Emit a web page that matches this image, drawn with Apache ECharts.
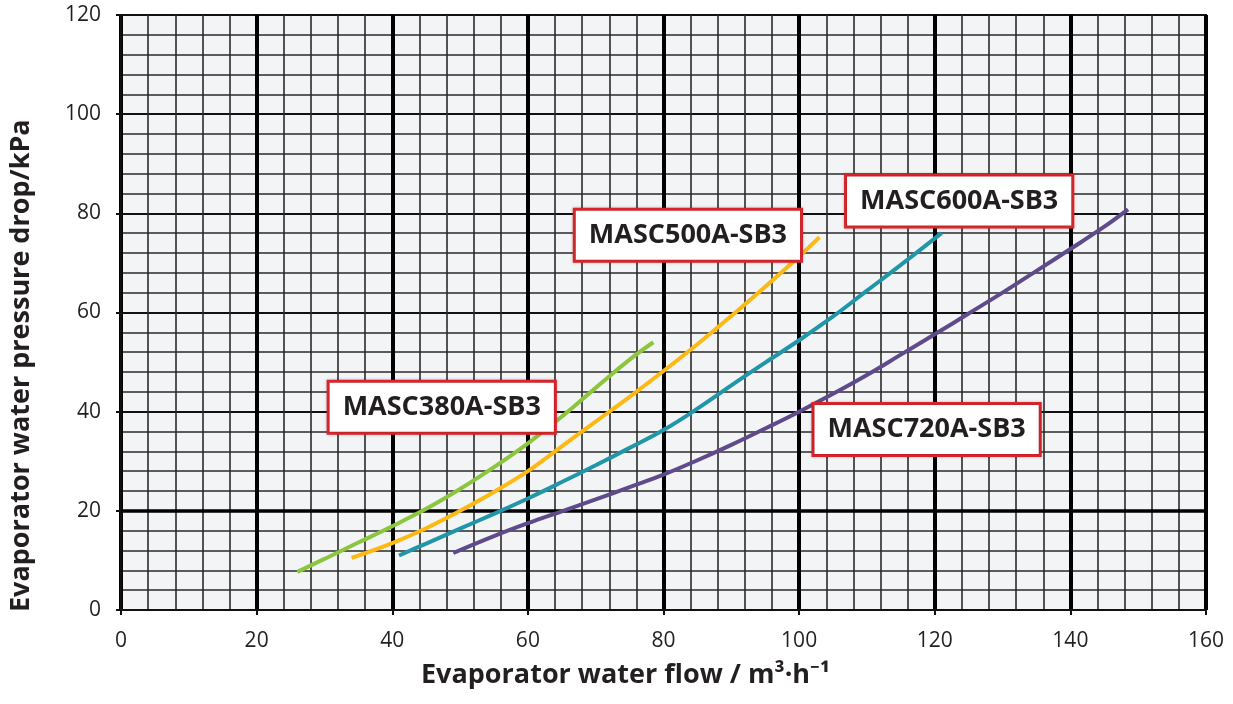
<!DOCTYPE html>
<html>
<head>
<meta charset="utf-8">
<script src="https://cdn.jsdelivr.net/npm/echarts@6/dist/echarts.min.js"></script>
<style>html,body{margin:0;padding:0;background:#fff;}#c{width:1233px;height:704px;}</style>
</head>
<body>
<div id="c"></div>
<script>
const xTicks = [0, 20, 40, 60, 80, 100, 120, 140, 160];
const yTicks = [0, 20, 40, 60, 80, 100, 120];
const seriesNames = ['MASC380A-SB3', 'MASC500A-SB3', 'MASC600A-SB3', 'MASC720A-SB3'];
const masc380 = [[26,7.7],[30,10.3],[35,13.6],[40,16.9],[45,20.4],[50,24.4],[55,28.8],[60,33.6],[65,39],[70,44.8],[75,50.5],[78.5,54]];
const masc500 = [[34,10.5],[40,13.5],[45,16.5],[50,20],[55,23.8],[60,28],[65,33],[70,38],[75,43],[80,48.2],[85,53.6],[90,59.3],[95,65.2],[100,71.3],[103,75.2]];
const masc600 = [[41,11],[45,13.4],[50,16.4],[55,19.4],[60,22.5],[65,25.8],[70,29.2],[75,32.7],[80,36.3],[85,40.6],[90,45.3],[95,49.9],[100,54.4],[105,59.2],[110,64.4],[115,69.6],[121,76]];
const masc720 = [[49,11.5],[55,14.9],[60,17.5],[65,19.9],[70,22.3],[75,24.8],[80,27.3],[85,30.2],[90,33.3],[95,36.6],[100,40],[105,43.6],[110,47.4],[115,51.5],[120,55.6],[125,59.8],[130,64],[135,68.4],[140,72.8],[145,77.3],[148.5,80.8]];
const labelAnchors = [[47.3,40.9],[83.6,75.6],[123.6,82.5],[118.8,36.4]];
const colors = ['#8cc63f', '#fdb913', '#2196a8', '#5f4b8b'];

const chart = echarts.init(document.getElementById('c'));
const seriesData = [masc380, masc500, masc600, masc720];
const font = '"Open Sans", "Noto Sans", sans-serif';

const series = seriesData.map((d, i) => ({
  name: seriesNames[i],
  type: 'line',
  data: d,
  smooth: 0.4,
  showSymbol: false,
  symbol: 'none',
  lineStyle: { color: colors[i], width: 4 },
  z: 5,
  markPoint: {
    symbol: 'rect',
    symbolSize: 1,
    itemStyle: { color: 'rgba(0,0,0,0)' },
    silent: true,
    z: 10,
    data: [{ coord: labelAnchors[i], value: seriesNames[i] }],
    label: {
      show: true,
      position: 'inside',
      formatter: seriesNames[i],
      fontFamily: font,
      fontWeight: 'bold',
      fontSize: 27,
      color: '#231f20',
      backgroundColor: '#ffffff',
      borderColor: '#d9252b',
      borderWidth: 3,
      padding: [12, 13, 10, 13],
      shadowColor: 'rgba(0,0,0,0.25)',
      shadowBlur: 3
    }
  }
}));

series.push({
  type: 'line',
  data: [],
  markLine: {
    silent: true,
    symbol: 'none',
    label: { show: false },
    lineStyle: { color: '#000', width: 3.5, type: 'solid' },
    data: [{ yAxis: 20 }]
  },
  z: 3
});

chart.setOption({
  animation: false,
  backgroundColor: '#fff',
  grid: {
    left: 121, right: 27, top: 15, bottom: 94,
    show: true, backgroundColor: '#f3f4f6', borderColor: '#111', borderWidth: 2
  },
  xAxis: {
    type: 'value', min: 0, max: 160, interval: 20,
    axisLine: { show: true, lineStyle: { color: '#111', width: 2 } },
    axisTick: { show: true, length: 5, lineStyle: { color: '#111', width: 2 } },
    axisLabel: { fontFamily: font, fontSize: 21, color: '#231f20', margin: 21,
      formatter: v => xTicks.includes(v) ? String(v) : '' },
    splitLine: { show: true, lineStyle: { color: '#000', width: 4 } },
    minorTick: { show: false, splitNumber: 5 },
    minorSplitLine: { show: true, lineStyle: { color: '#2a2a2a', width: 1.6 } }
  },
  yAxis: {
    type: 'value', min: 0, max: 120, interval: 20,
    axisLine: { show: true, lineStyle: { color: '#111', width: 2 } },
    axisTick: { show: true, length: 5, lineStyle: { color: '#111', width: 2 } },
    axisLabel: { fontFamily: font, fontSize: 21, color: '#231f20', margin: 20,
      formatter: v => yTicks.includes(v) ? String(v) : '' },
    splitLine: { show: true, lineStyle: { color: '#111', width: 2 } },
    minorTick: { show: false, splitNumber: 5 },
    minorSplitLine: { show: true, lineStyle: { color: '#2a2a2a', width: 1.6 } }
  },
  graphic: [
    {
      type: 'text', left: 421, top: 662,
      style: { text: 'Evaporator water flow / m³·h⁻¹', font: 'bold 27px "Open Sans", "Noto Sans", sans-serif', fill: '#231f20' }
    },
    {
      type: 'text', x: 8, y: 612, rotation: Math.PI / 2,
      style: { text: 'Evaporator water pressure drop/kPa', font: 'bold 27px "Open Sans", "Noto Sans", sans-serif', fill: '#231f20', align: 'left', verticalAlign: 'top' }
    }
  ],
  series: series
});
</script>
</body>
</html>
